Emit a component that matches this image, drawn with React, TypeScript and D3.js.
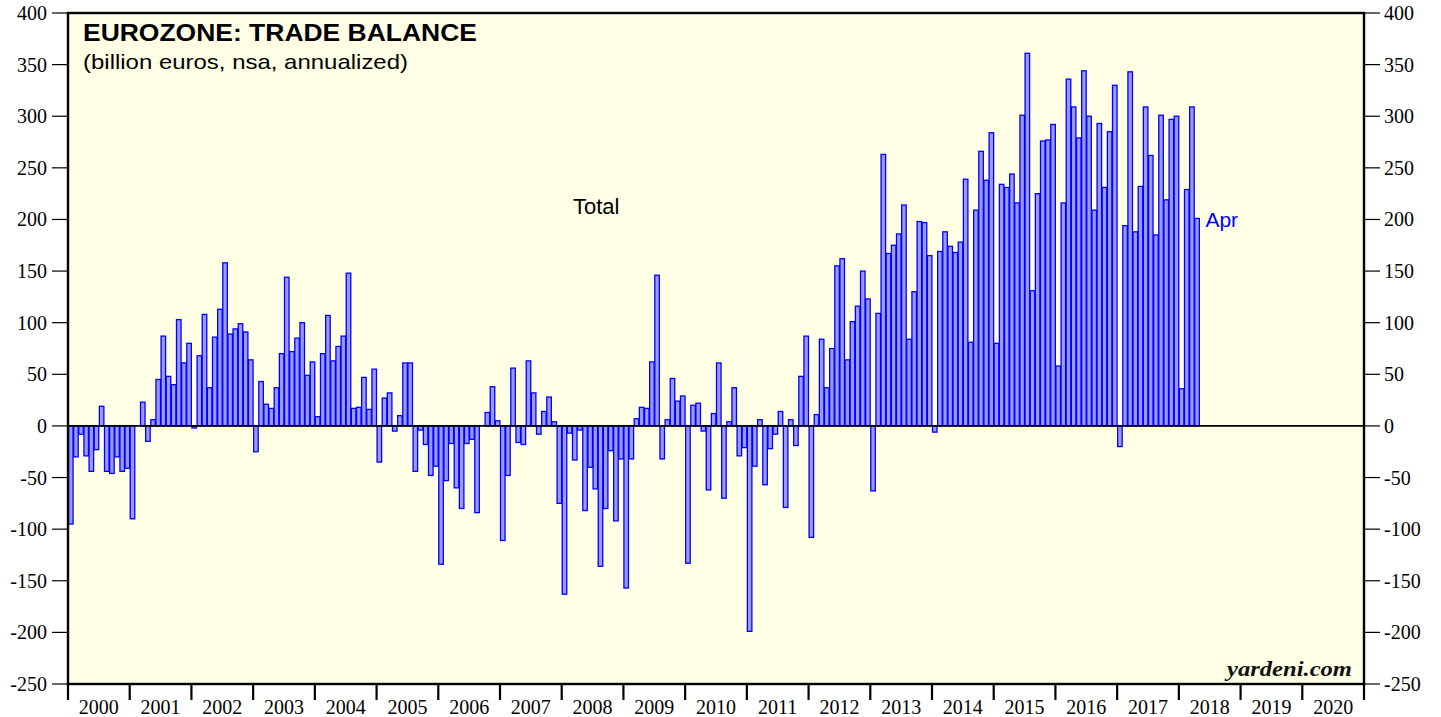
import React from 'react';
import * as d3 from 'd3';

// monthly trade balance, billion euros annualized (Jan..Dec)
const y2000 = [-95, -30, -8, -29, -44, -23, 19, -44, -46, -30, -44, -41];
const y2001 = [-90, 0, 23, -15, 6, 45, 87, 48, 40, 103, 61, 80];
const y2002 = [-2, 68, 108, 37, 86, 113, 158, 89, 94, 99, 91, 64];
const y2003 = [-25, 43, 21, 17, 37, 70, 144, 72, 85, 100, 49, 62];
const y2004 = [9, 70, 107, 63, 77, 87, 148, 17, 18, 47, 16, 55];
const y2005 = [-35, 27, 32, -5, 10, 61, 61, -44, -4, -18, -48, -39];
const y2006 = [-134, -53, -17, -60, -80, -17, -13, -84, 0, 13, 38, 5];
const y2007 = [-111, -48, 56, -16, -18, 63, 32, -8, 14, 28, 4, -75];
const y2008 = [-163, -7, -33, -4, -82, -40, -61, -136, -80, -24, -92, -32];
const y2009 = [-157, -32, 7, 18, 17, 62, 146, -32, 6, 46, 24, 29];
const y2010 = [-133, 20, 22, -5, -62, 12, 61, -70, 4, 37, -29, -21];
const y2011 = [-199, -39, 6, -57, -22, -8, 14, -79, 6, -19, 48, 87];
const y2012 = [-108, 11, 84, 37, 75, 155, 162, 64, 101, 116, 150, 123];
const y2013 = [-63, 109, 263, 167, 175, 186, 214, 84, 130, 198, 197, 165];
const y2014 = [-6, 169, 188, 174, 168, 178, 239, 81, 209, 266, 238, 284];
const y2015 = [80, 234, 231, 244, 216, 301, 361, 131, 225, 276, 277, 292];
const y2016 = [58, 216, 336, 309, 279, 344, 300, 209, 293, 231, 285, 330];
const y2017 = [-20, 194, 343, 188, 232, 309, 262, 185, 301, 219, 297, 300];
const y2018 = [36, 229, 309, 201];

const years = d3.range(2000, 2021);
const yTicks = d3.range(-250, 401, 50);

const values = [
  ...y2000, ...y2001, ...y2002, ...y2003, ...y2004, ...y2005, ...y2006,
  ...y2007, ...y2008, ...y2009, ...y2010, ...y2011, ...y2012, ...y2013,
  ...y2014, ...y2015, ...y2016, ...y2017, ...y2018,
];

const W = 1441, H = 717;
const left = 68, right = 1364, top = 13, bottom = 684;
const serif = '"Liberation Serif", "Times New Roman", serif';
const sans = '"Liberation Sans", Arial, Helvetica, sans-serif';

const App = () => {
  const x = d3.scaleLinear().domain([0, years.length * 12]).range([left, right]);
  const y = d3.scaleLinear().domain([-250, 400]).range([bottom, top]);
  const last = values.length - 1;

  return (
    <svg width={W} height={H} style={{ position: 'absolute', left: 0, top: 0, background: '#fff' }}>
      <rect x={left} y={top} width={right - left} height={bottom - top} fill="#ffffe6" />

      {/* bars */}
      <g>
        {values.map((v, i) => (
          <rect
            key={i}
            x={x(i) + 0.5}
            y={Math.min(y(v), y(0))}
            width={x(i + 1) - x(i) - 0.6}
            height={Math.abs(y(v) - y(0))}
            fill="#9999ff"
            stroke="#0000ff"
            strokeWidth={1.3}
          />
        ))}
      </g>

      {/* zero line */}
      <line x1={left} x2={right} y1={y(0)} y2={y(0)} stroke="#000" strokeWidth={1.6} />

      {/* frame */}
      <rect x={left} y={top} width={right - left} height={bottom - top} fill="none" stroke="#000" strokeWidth={2.4} />

      {/* y axes */}
      {yTicks.map(t => (
        <g key={t} fontFamily={serif} fontSize={20} fill="#000">
          <line x1={left - 16} x2={left} y1={y(t)} y2={y(t)} stroke="#000" strokeWidth={1.2} />
          <line x1={right} x2={right + 16} y1={y(t)} y2={y(t)} stroke="#000" strokeWidth={1.2} />
          <text x={left - 21} y={y(t)} dy="0.35em" textAnchor="end">{t}</text>
          <text x={right + 20} y={y(t)} dy="0.35em" textAnchor="start">{t}</text>
        </g>
      ))}

      {/* x axis: year ticks and labels */}
      {years.map((yr, k) => (
        <g key={yr}>
          <line x1={x(k * 12)} x2={x(k * 12)} y1={bottom} y2={bottom + 16} stroke="#000" strokeWidth={2.2} />
          <text x={x(k * 12 + 6)} y={714} textAnchor="middle" fontFamily={serif} fontSize={20}>{yr}</text>
        </g>
      ))}
      <line x1={right} x2={right} y1={bottom} y2={bottom + 16} stroke="#000" strokeWidth={2.2} />

      {/* titles */}
      <text x={83} y={41} fontFamily={sans} fontWeight="bold" fontSize={23} textLength={394} lengthAdjust="spacingAndGlyphs">
        EUROZONE: TRADE BALANCE
      </text>
      <text x={83} y={69} fontFamily={sans} fontSize={21} textLength={325} lengthAdjust="spacingAndGlyphs">
        (billion euros, nsa, annualized)
      </text>
      <text x={573} y={214} fontFamily={sans} fontSize={22}>Total</text>
      <text x={x(last + 1) + 6} y={y(values[last]) + 9} fontFamily={sans} fontSize={21} fill="#0000ff">Apr</text>
      <text x={1352} y={676} textAnchor="end" fontFamily={serif} fontStyle="italic" fontWeight="bold" fontSize={21} fill="#111" textLength={125} lengthAdjust="spacingAndGlyphs">
        yardeni.com
      </text>
    </svg>
  );
};

export default App;
